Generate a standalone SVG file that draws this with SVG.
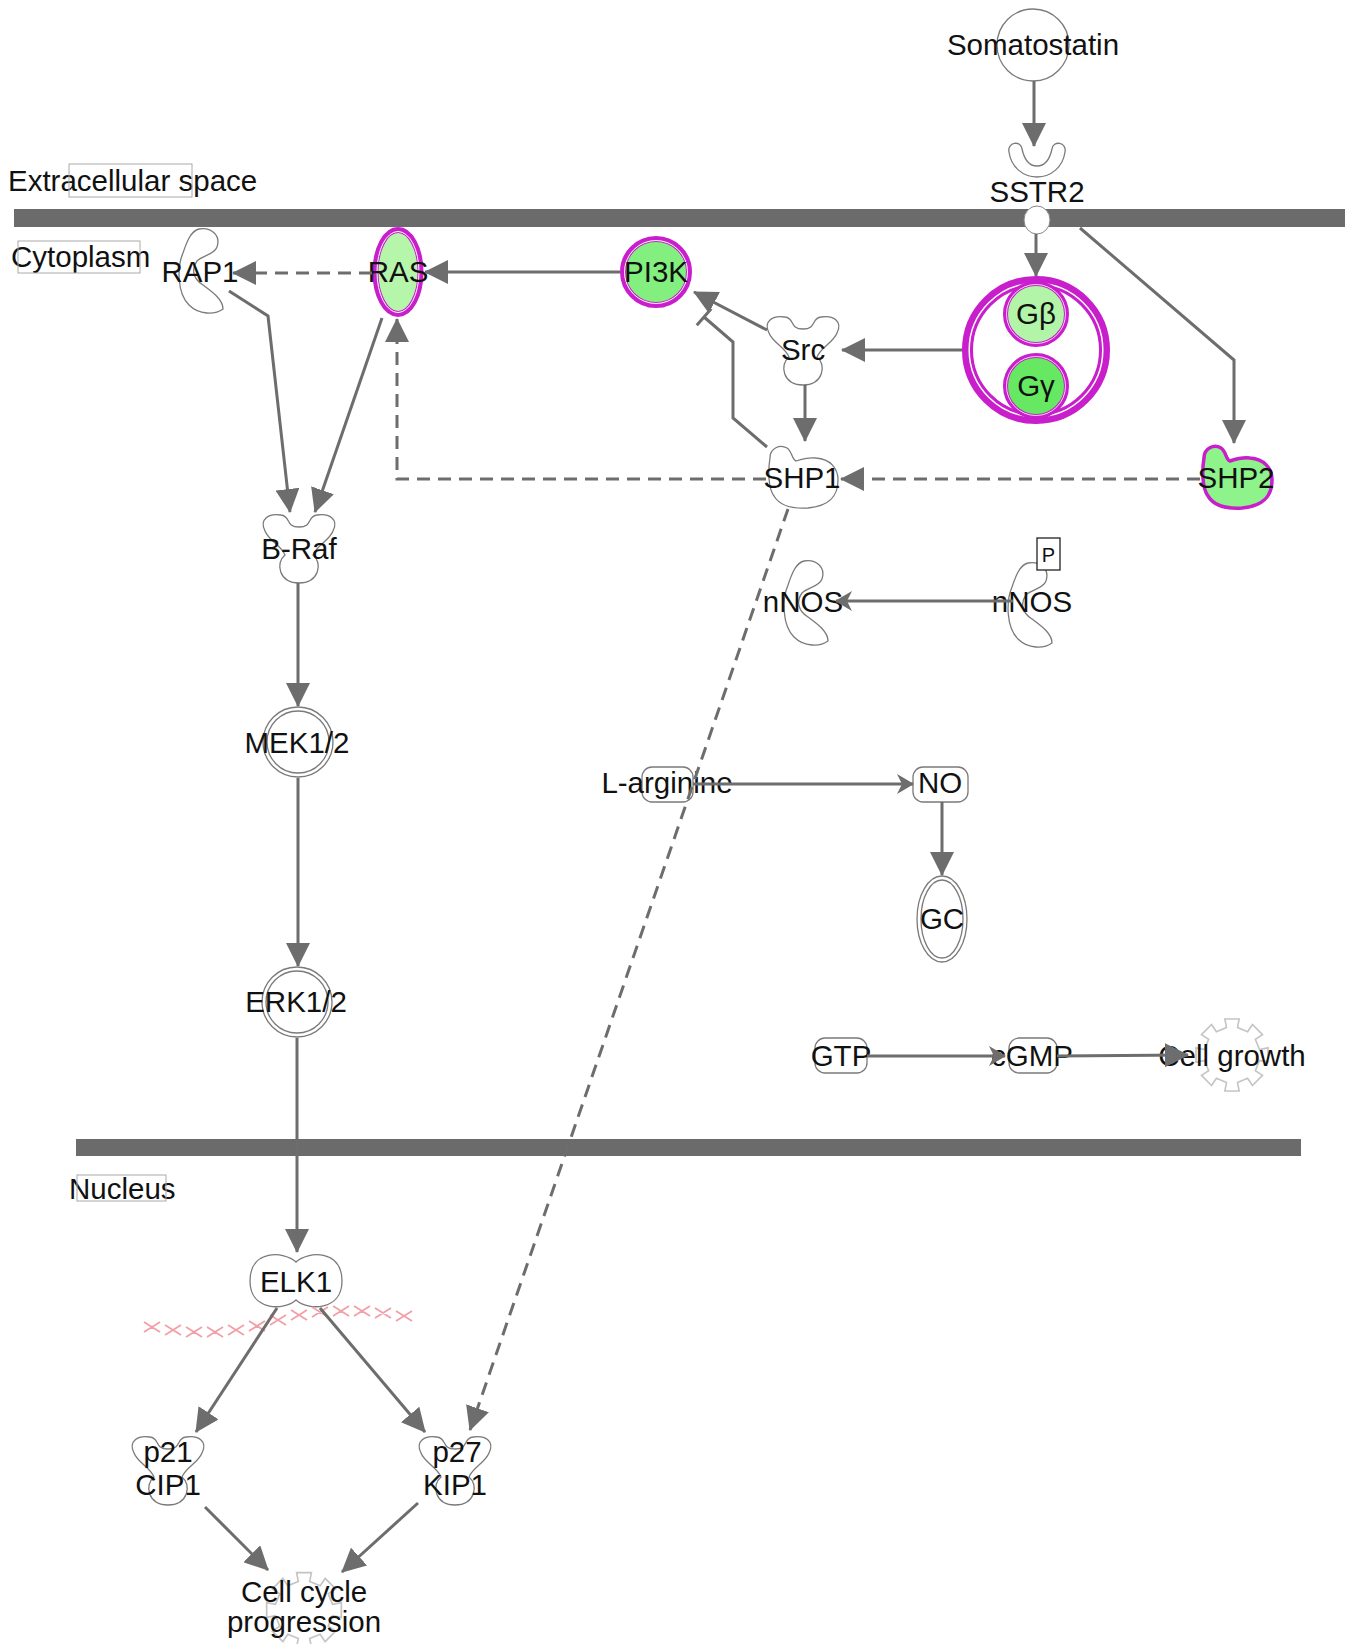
<svg xmlns="http://www.w3.org/2000/svg" xmlns:xlink="http://www.w3.org/1999/xlink" width="1350" height="1644" viewBox="0 0 1350 1644">
<style>
.lbl{font-family:"Liberation Sans",Arial,sans-serif;font-size:29.5px;fill:#111;text-anchor:middle}
.region{font-family:"Liberation Sans",Arial,sans-serif;font-size:29.5px;fill:#111}
.rbox{fill:none;stroke:#aaa;stroke-width:1}
.mem{fill:#6b6b6b}
.shape{fill:#fff;stroke:#7a7a7a;stroke-width:1.3}
.chem{fill:none;stroke:#7a7a7a;stroke-width:1.3}
.gear{fill:#fff;stroke:#c4c4c4;stroke-width:1.5}
.edge{fill:none;stroke:#6d6d6d;stroke-width:3}
.dash{stroke-dasharray:13 8}
.arr{marker-end:url(#arr)}
.dart{marker-end:url(#dart)}
.mag{stroke:#c81ecb}
.dna{fill:none;stroke:#f2a0a8;stroke-width:1.8}
</style>
<defs>
<marker id="arr" markerUnits="userSpaceOnUse" markerWidth="24" markerHeight="24" viewBox="0 0 24 24" refX="23" refY="12" orient="auto"><path d="M0,0 L24,12 L0,24 z" fill="#6d6d6d"/></marker>
<marker id="dart" markerUnits="userSpaceOnUse" markerWidth="17" markerHeight="20" viewBox="0 0 17 20" refX="16" refY="10" orient="auto"><path d="M0,0 L17,10 L0,20 L5,10 z" fill="#6d6d6d"/></marker>
<path id="kin" d="M -34,-18 C -40,-30 -30,-36 -18,-34 C -8,-33 -14,-22 0,-22 C 14,-22 8,-33 18,-34 C 30,-36 40,-30 34,-18 C 30,-8 18,-4 14,6 C 24,14 20,34 0,34 C -20,34 -24,14 -14,6 C -18,-4 -30,-8 -34,-18 Z"/>
<path id="phos" d="M -32,-20 C -32,-30 -22,-34 -15,-30 C -10,-27 -10,-18 -6,-17 C 0,-19 6,-21 14,-20 C 28,-19 36,-10 36,2 C 36,18 28,28 6,30 C -10,31 -22,28 -28,18 C -34,10 -34,-8 -32,-20 Z"/>
<path id="enz" d="M -2,-42 C 10,-44 20,-36 16,-24 C 13,-16 2,-16 -4,-10 C -10,-2 -8,8 2,14 C 10,20 22,28 22,38 C 14,44 -2,44 -12,34 C -24,22 -24,-4 -18,-18 C -14,-30 -10,-40 -2,-42 Z"/>
<path id="gearp" d="M25.5,-5.07 L33.35,-6.63 L33.35,6.63 L25.5,5.07 L21.62,14.45 L28.27,18.89 L18.89,28.27 L14.45,21.62 L5.07,25.5 L6.63,33.35 L-6.63,33.35 L-5.07,25.5 L-14.45,21.62 L-18.89,28.27 L-28.27,18.89 L-21.62,14.45 L-25.5,5.07 L-33.35,6.63 L-33.35,-6.63 L-25.5,-5.07 L-21.62,-14.45 L-28.27,-18.89 L-18.89,-28.27 L-14.45,-21.62 L-5.07,-25.5 L-6.63,-33.35 L6.63,-33.35 L5.07,-25.5 L14.45,-21.62 L18.89,-28.27 L28.27,-18.89 L21.62,-14.45 Z"/>
</defs>
<rect width="1350" height="1644" fill="#fff"/>

<g id="compartments">
<rect class="mem" x="14" y="209" width="1331" height="18"/>
<rect class="mem" x="76" y="1139" width="1225" height="17"/>
<text class="region" x="8" y="191">Extracellular space</text>
<rect class="rbox" x="69" y="164" width="123" height="33"/>
<text class="region" x="11" y="267">Cytoplasm</text>
<rect class="rbox" x="18" y="241" width="122" height="32"/>
<text class="region" x="69" y="1199">Nucleus</text>
<rect class="rbox" x="77" y="1175" width="89" height="26"/>
</g>

<g id="node-somatostatin">
<circle class="shape" cx="1033" cy="45" r="36"/>
<text class="lbl" x="1033" y="55">Somatostatin</text>
</g>
<g id="node-sstr2">
<path class="shape" transform="translate(1037,161)" d="M -28,-9 C -30,-19 -16,-21 -15,-12 C -13,-3 -9,5 0,5 C 9,5 13,-3 15,-12 C 16,-21 30,-19 28,-9 C 26,6 14,16 0,16 C -14,16 -26,6 -28,-9 Z"/>
<ellipse cx="1037" cy="220" rx="13" ry="14" fill="#fff" stroke="#888" stroke-width="1"/>
<text class="lbl" x="1037" y="202">SSTR2</text>
</g>
<g id="node-rap1">
<use xlink:href="#enz" class="shape" transform="translate(201,271)"/>
<text class="lbl" x="200" y="282">RAP1</text>
</g>
<g id="node-ras">
<ellipse cx="398" cy="272" rx="22.5" ry="42" fill="#b5f6ab" class="mag" stroke-width="6"/>
<ellipse cx="398" cy="272" rx="21" ry="40.5" fill="none" stroke="#fff" stroke-width="1"/>
<text class="lbl" x="398" y="282">RAS</text>
</g>
<g id="node-pi3k">
<circle cx="656" cy="272" r="33" fill="#82ef7e" class="mag" stroke-width="6"/>
<circle cx="656" cy="272" r="31.5" fill="none" stroke="#fff" stroke-width="1"/>
<text class="lbl" x="656" y="282">PI3K</text>
</g>
<g id="node-gbg">
<circle cx="1036" cy="350" r="68.5" fill="none" class="mag" stroke-width="11"/>
<circle cx="1036" cy="350" r="66.8" fill="none" stroke="#fff" stroke-width="1.5"/>
<circle cx="1036" cy="314" r="30.5" fill="#b2f5a8" class="mag" stroke-width="5"/>
<circle cx="1036" cy="314" r="29.5" fill="none" stroke="#fff" stroke-width="0.8"/>
<text class="lbl" x="1036" y="324">Gβ</text>
<circle cx="1036" cy="386" r="30.5" fill="#66e862" class="mag" stroke-width="5"/>
<circle cx="1036" cy="386" r="29.5" fill="none" stroke="#fff" stroke-width="0.8"/>
<text class="lbl" x="1036" y="396">Gγ</text>
</g>
<g id="node-src">
<use xlink:href="#kin" class="shape" transform="translate(803,351)"/>
<text class="lbl" x="803" y="360">Src</text>
</g>
<g id="node-shp1">
<use xlink:href="#phos" class="shape" transform="translate(802,478)"/>
<text class="lbl" x="802" y="488">SHP1</text>
</g>
<g id="node-shp2">
<use xlink:href="#phos" transform="translate(1236,478)" fill="#8ef38a" stroke="#c81ecb" stroke-width="3.5"/>
<text class="lbl" x="1236" y="488">SHP2</text>
</g>
<g id="node-braf">
<use xlink:href="#kin" class="shape" transform="translate(299,549)"/>
<text class="lbl" x="299" y="559">B-Raf</text>
</g>
<g id="node-nnos">
<use xlink:href="#enz" class="shape" transform="translate(806,603)"/>
<text class="lbl" x="803" y="612">nNOS</text>
</g>
<g id="node-nnos-p">
<use xlink:href="#enz" class="shape" transform="translate(1030,605)"/>
<text class="lbl" x="1032" y="612">nNOS</text>
<rect x="1037" y="538" width="23" height="32" fill="#fff" stroke="#222" stroke-width="1.3"/>
<text class="lbl" x="1048.5" y="562" style="font-size:20px">P</text>
</g>
<g id="node-mek">
<circle class="shape" cx="298" cy="742" r="35"/>
<circle class="shape" cx="298" cy="742" r="31"/>
<text class="lbl" x="297" y="753">MEK1/2</text>
</g>
<g id="node-erk">
<circle class="shape" cx="297" cy="1002" r="35"/>
<circle class="shape" cx="297" cy="1002" r="31"/>
<text class="lbl" x="296" y="1012">ERK1/2</text>
</g>
<g id="node-larginine">
<rect class="chem" x="642" y="767" width="51" height="35" rx="10"/>
<text class="lbl" x="667" y="793">L-arginine</text>
</g>
<g id="node-no">
<rect class="chem" x="913" y="767" width="55" height="35" rx="10"/>
<text class="lbl" x="940" y="793">NO</text>
</g>
<g id="node-gc">
<ellipse class="shape" cx="942" cy="919" rx="25" ry="43"/>
<ellipse class="shape" cx="942" cy="919" rx="21" ry="39"/>
<text class="lbl" x="942" y="929">GC</text>
</g>
<g id="node-gtp">
<rect class="chem" x="815" y="1038" width="52" height="35" rx="10"/>
<text class="lbl" x="841" y="1066">GTP</text>
</g>
<g id="node-cgmp">
<rect class="chem" x="1009" y="1038" width="48" height="35" rx="10"/>
<text class="lbl" x="1032" y="1066">cGMP</text>
</g>
<g id="node-cellgrowth">
<use xlink:href="#gearp" class="gear" transform="translate(1232,1055) scale(1.08)"/>
<text class="lbl" x="1232" y="1066">Cell growth</text>
</g>
<g id="node-elk1">
<path class="shape" transform="translate(296,1281)" d="M 0,-19 C 12,-30 46,-32 46,0 C 46,30 12,30 0,19 C -12,30 -46,30 -46,0 C -46,-32 -12,-30 0,-19 Z"/>
<text class="lbl" x="296" y="1292">ELK1</text>
</g>
<g id="dna">
<path class="dna" d="M144,1322 l16,10 m-16,0 l16,-10 M165,1325 l16,10 m-16,0 l16,-10 M186,1327 l16,10 m-16,0 l16,-10 M207,1327 l16,10 m-16,0 l16,-10 M228,1325 l16,10 m-16,0 l16,-10 M249,1321 l16,10 m-16,0 l16,-10 M270,1315 l16,10 m-16,0 l16,-10 M291,1310 l16,10 m-16,0 l16,-10 M312,1307 l16,10 m-16,0 l16,-10 M333,1306 l16,10 m-16,0 l16,-10 M354,1306 l16,10 m-16,0 l16,-10 M375,1308 l16,10 m-16,0 l16,-10 M396,1311 l16,10 m-16,0 l16,-10"/>
</g>
<g id="node-p21">
<use xlink:href="#kin" class="shape" transform="translate(168,1471)"/>
<text class="lbl" x="168" y="1462">p21</text>
<text class="lbl" x="168" y="1495">CIP1</text>
</g>
<g id="node-p27">
<use xlink:href="#kin" class="shape" transform="translate(455,1471)"/>
<text class="lbl" x="457" y="1462">p27</text>
<text class="lbl" x="455" y="1495">KIP1</text>
</g>
<g id="node-cellcycle">
<use xlink:href="#gearp" class="gear" transform="translate(304,1610) scale(1.12)"/>
<text class="lbl" x="304" y="1602">Cell cycle</text>
<text class="lbl" x="304" y="1632">progression</text>
</g>

<g id="connectors">
<path class="edge arr" d="M1034,81 L1034,146"/>
<path class="edge arr" d="M1036,234 L1036,276"/>
<path class="edge arr" d="M1080,228 L1234,360 L1234,443"/>
<path class="edge arr" d="M962,350 L842,350"/>
<path class="edge arr" d="M767,330 L694,292"/>
<path class="edge arr" d="M805,385 L805,441"/>
<path class="edge" d="M767,447 L733,418 L733,342 L704,317"/>
<path class="edge" d="M711.2,308.7 L696.8,325.3"/>
<path class="edge arr" d="M620,272 L425,272"/>
<path class="edge dash arr" d="M372,273 L233,273"/>
<path class="edge dash arr" d="M1200,479 L841,479"/>
<path class="edge dash arr" d="M766,479 L397,479 L397,319"/>
<path class="edge arr" d="M229,291 L268,316 L290,512"/>
<path class="edge arr" d="M382,318 L315,512"/>
<path class="edge arr" d="M298,583 L298,706"/>
<path class="edge arr" d="M298,778 L298,966"/>
<path class="edge arr" d="M297,1038 L297,1252"/>
<path class="edge arr" d="M277,1308 L196,1432"/>
<path class="edge arr" d="M320,1308 L425,1432"/>
<path class="edge dash arr" d="M788,509 L470,1430"/>
<path class="edge arr" d="M205,1507 L268,1570"/>
<path class="edge arr" d="M418,1503 L342,1572"/>
<path class="edge dart" d="M1013,601 L836,601"/>
<path class="edge dart" d="M693,784 L913,784"/>
<path class="edge arr" d="M942,802 L942,875"/>
<path class="edge dart" d="M867,1056 L1005,1056"/>
<path class="edge arr" d="M1057,1056 L1188,1055"/>
</g>
</svg>
